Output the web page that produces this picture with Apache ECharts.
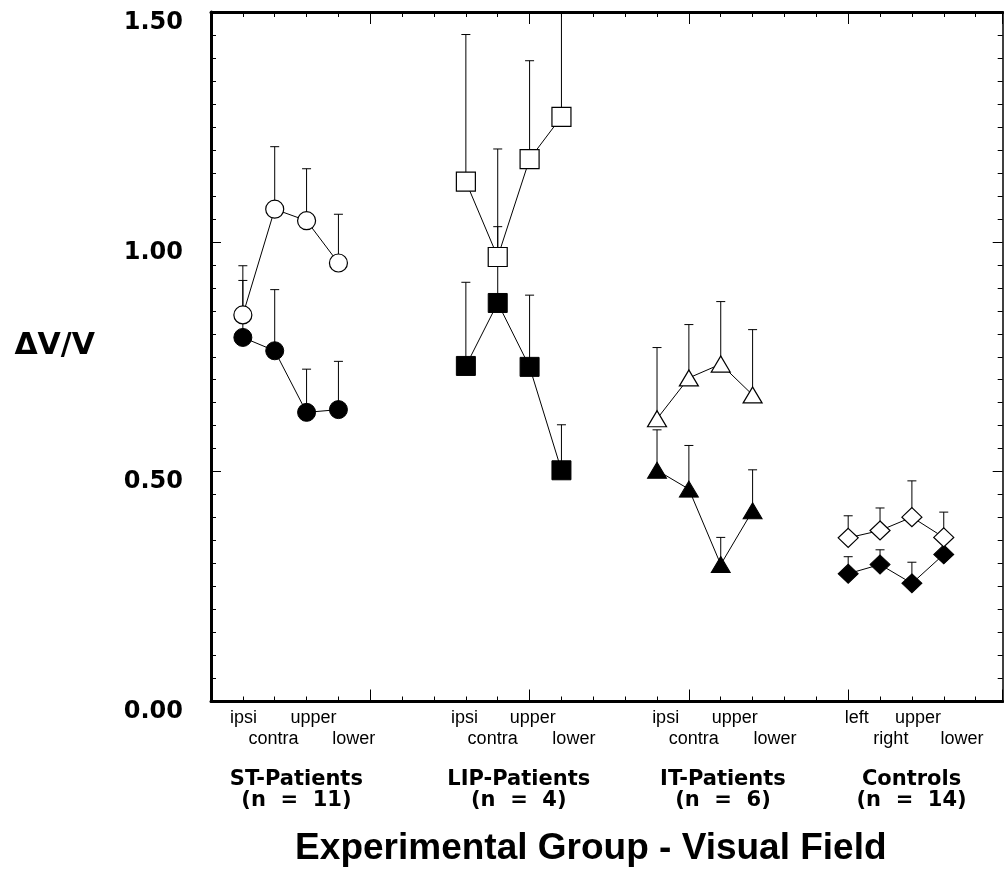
<!DOCTYPE html>
<html>
<head>
<meta charset="utf-8">
<script src="https://cdn.jsdelivr.net/npm/echarts@6/dist/echarts.min.js"></script>
<style>
  html, body { margin: 0; padding: 0; background: #fff; }
  #chart { width: 1004px; height: 877px; }
</style>
</head>
<body>
<div id="chart"></div>
<script>
// Groups and visual-field conditions
const groups = ['ST-Patients', 'LIP-Patients', 'IT-Patients', 'Controls'];
const groupN = ['(n  =  11)', '(n  =  4)', '(n  =  6)', '(n  =  14)'];
const fieldNames = [
  ['ipsi', 'contra', 'upper', 'lower'],
  ['ipsi', 'contra', 'upper', 'lower'],
  ['ipsi', 'contra', 'upper', 'lower'],
  ['left', 'right', 'upper', 'lower']
];
// x positions of the four conditions of each group
const stX = [1, 2, 3, 4];
const lipX = [8, 9, 10, 11];
const itX = [14, 15, 16, 17];
const ctlX = [20, 21, 22, 23];

// Mean dV/V (open / filled symbols) and top of the error bar
const stOpen = [0.841, 1.071, 1.046, 0.954];
const stOpenTop = [0.948, 1.207, 1.159, 1.060];
const stFilled = [0.792, 0.763, 0.629, 0.635];
const stFilledTop = [0.916, 0.896, 0.723, 0.740];

const lipOpen = [1.131, 0.967, 1.180, 1.272];
const lipOpenTop = [1.451, 1.202, 1.394, 1.530];
const lipFilled = [0.730, 0.867, 0.728, 0.503];
const lipFilledTop = [0.912, 1.033, 0.884, 0.602];

const itOpen = [0.615, 0.704, 0.734, 0.667];
const itOpenTop = [0.770, 0.820, 0.870, 0.809];
const itFilled = [0.503, 0.462, 0.298, 0.415];
const itFilledTop = [0.591, 0.557, 0.357, 0.504];

const ctlOpen = [0.356, 0.372, 0.401, 0.357];
const ctlOpenTop = [0.404, 0.421, 0.480, 0.412];
const ctlFilled = [0.278, 0.298, 0.257, 0.320];
const ctlFilledTop = [0.315, 0.330, 0.303, 0.352];

// ---- layout (label placement along the x axis, in axis units) ----
const fieldLabelAt = [
  [1.02, 1.96, 3.22, 4.48],
  [7.96, 8.84, 10.10, 11.39],
  [14.27, 15.15, 16.44, 17.70],
  [20.27, 21.34, 22.19, 23.57]
];
const groupLabelAt = [2.68, 9.66, 16.07, 21.99];

// condition names alternate between an upper and a lower text row
const rowLabelMap = {};
const upperRowAt = [];
const lowerRowAt = [];
fieldLabelAt.forEach((row, g) => row.forEach((v, i) => {
  rowLabelMap[v.toFixed(2)] = fieldNames[g][i];
  (i % 2 === 0 ? upperRowAt : lowerRowAt).push(v);
}));
const groupLabelMap = {};
groupLabelAt.forEach((v, g) => { groupLabelMap[v.toFixed(2)] = '{g|' + groups[g] + '}\n{n|' + groupN[g] + '}'; });

function pts(xs, ys) { return xs.map((x, i) => [x, ys[i]]); }
function bars(xs, ys, tops) { return xs.map((x, i) => [x, ys[i], tops[i]]); }

const sets = [
  { x: stX, open: stOpen, openTop: stOpenTop, filled: stFilled, filledTop: stFilledTop, symbol: 'circle', size: 18 },
  { x: lipX, open: lipOpen, openTop: lipOpenTop, filled: lipFilled, filledTop: lipFilledTop, symbol: 'rect', size: 19 },
  { x: itX, open: itOpen, openTop: itOpenTop, filled: itFilled, filledTop: itFilledTop, symbol: 'triangle', size: [19, 16] },
  { x: ctlX, open: ctlOpen, openTop: ctlOpenTop, filled: ctlFilled, filledTop: ctlFilledTop, symbol: 'diamond', size: [20, 19] }
];

// vertical upper error bar with a short cap, clipped at the top of the plot
function renderErrorBar(params, api) {
  const base = api.coord([api.value(0), api.value(1)]);
  const tip = api.coord([api.value(0), api.value(2)]);
  const topEdge = params.coordSys.y;
  const clipped = tip[1] < topEdge;
  const y = clipped ? topEdge : tip[1];
  const style = { stroke: '#000', lineWidth: 1 };
  const children = [{ type: 'line', shape: { x1: base[0], y1: base[1], x2: base[0], y2: y }, style }];
  if (!clipped) {
    children.push({ type: 'line', shape: { x1: base[0] - 4.5, y1: y, x2: base[0] + 4.5, y2: y }, style });
  }
  return { type: 'group', children };
}

const series = [];
sets.forEach(s => {
  series.push({ type: 'custom', renderItem: renderErrorBar, data: bars(s.x, s.filled, s.filledTop), z: 1, silent: true });
  series.push({ type: 'custom', renderItem: renderErrorBar, data: bars(s.x, s.open, s.openTop), z: 1, silent: true });
});
sets.forEach(s => {
  series.push({
    type: 'line', data: pts(s.x, s.filled), symbol: s.symbol, symbolSize: s.size,
    lineStyle: { color: '#000', width: 1 },
    itemStyle: { color: '#000', borderColor: '#000', borderWidth: 1 }, z: 3
  });
  series.push({
    type: 'line', data: pts(s.x, s.open), symbol: s.symbol, symbolSize: s.size,
    lineStyle: { color: '#000', width: 1 },
    itemStyle: { color: '#fff', borderColor: '#000', borderWidth: 1.2 }, z: 4
  });
});

const xCommon = {
  type: 'value', min: 0, max: 24.85, interval: 5,
  splitLine: { show: false },
  axisTick: { show: true, inside: true, length: 12, lineStyle: { color: '#000', width: 1 } },
  minorTick: { show: true, splitNumber: 5, length: 5, lineStyle: { color: '#000', width: 1 } },
  minorSplitLine: { show: false }
};
const yCommon = {
  type: 'value', min: 0, max: 1.5, interval: 0.5,
  splitLine: { show: false },
  axisTick: { show: true, inside: true, length: 10, lineStyle: { color: '#000', width: 1 } },
  minorTick: { show: true, splitNumber: 10, length: 5, lineStyle: { color: '#000', width: 1 } },
  minorSplitLine: { show: false }
};
// bottom axis that only carries text labels
function labelAxis(values, margin, formatter, extra) {
  return {
    type: 'value', min: 0, max: 24.85, position: 'bottom',
    axisLine: { show: false, onZero: false }, axisTick: { show: false }, splitLine: { show: false },
    axisLabel: Object.assign({
      show: true, customValues: values, margin: margin, verticalAlign: 'top',
      showMinLabel: true, showMaxLabel: true, hideOverlap: false, formatter: formatter
    }, extra)
  };
}
const smallText = { fontFamily: 'Liberation Sans', fontSize: 18, color: '#000', lineHeight: 21 };

const option = {
  animation: false,
  backgroundColor: '#fff',
  grid: { left: 211, right: 1.3, top: 12, bottom: 175.5, containLabel: false },
  xAxis: [
    Object.assign({}, xCommon, {
      position: 'bottom',
      axisLine: { show: true, onZero: false, lineStyle: { color: '#000', width: 3 } },
      axisLabel: { show: false },
      name: 'Experimental Group - Visual Field', nameLocation: 'middle', nameGap: 129,
      nameTextStyle: { fontFamily: 'Liberation Sans', fontWeight: 'bold', fontSize: 37, color: '#000', padding: [0, 32, 0, 0] }
    }),
    Object.assign({}, xCommon, {
      position: 'top',
      axisLine: { show: true, onZero: false, lineStyle: { color: '#000', width: 3 } },
      axisLabel: { show: false }
    }),
    labelAxis(upperRowAt, 6, v => rowLabelMap[v.toFixed(2)] || '', smallText),
    labelAxis(lowerRowAt, 27, v => rowLabelMap[v.toFixed(2)] || '', smallText),
    labelAxis(groupLabelAt, 68, v => groupLabelMap[v.toFixed(2)] || '', {
      rich: {
        g: { fontFamily: 'DejaVu Sans', fontWeight: 'bold', fontSize: 21, color: '#000', lineHeight: 21, align: 'center' },
        n: { fontFamily: 'DejaVu Sans', fontWeight: 'bold', fontSize: 21, color: '#000', lineHeight: 21, align: 'center' }
      }
    })
  ],
  yAxis: [
    Object.assign({}, yCommon, {
      position: 'left',
      axisLine: { show: true, onZero: false, lineStyle: { color: '#000', width: 3 } },
      axisLabel: {
        show: true, margin: 28, formatter: v => v.toFixed(2),
        showMinLabel: true, showMaxLabel: true,
        fontFamily: 'DejaVu Sans', fontWeight: 'bold', fontSize: 24, color: '#000',
        verticalAlign: 'top', lineHeight: 21
      },
      name: '\u0394V/V', nameLocation: 'middle', nameRotate: 0, nameGap: 116,
      nameTextStyle: { fontFamily: 'DejaVu Sans', fontWeight: 'bold', fontSize: 30, color: '#000', verticalAlign: 'bottom', lineHeight: 22 }
    }),
    Object.assign({}, yCommon, {
      position: 'right',
      axisLine: { show: true, onZero: false, lineStyle: { color: '#000', width: 1.5 } },
      axisLabel: { show: false }
    })
  ],
  series: series.map(s => Object.assign({ xAxisIndex: 0, yAxisIndex: 0 }, s))
};

const chart = echarts.init(document.getElementById('chart'), null, { renderer: 'canvas' });
chart.setOption(option);
</script>
</body>
</html>
